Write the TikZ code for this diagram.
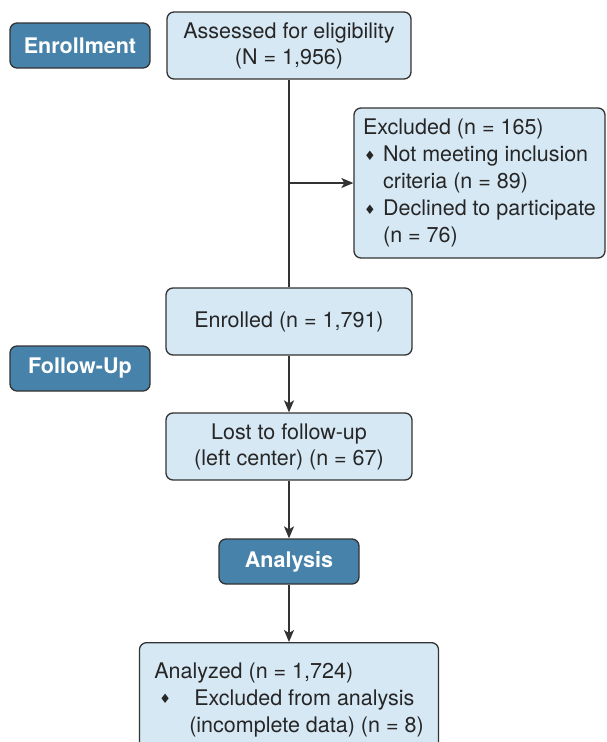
\documentclass[tikz,border=0pt]{standalone}
\usepackage{fontspec}
\setmainfont{TeX Gyre Heros}
\newfontfamily\symfont{DejaVu Sans}
\usetikzlibrary{arrows.meta,positioning}
\definecolor{ink}{HTML}{333333}
\definecolor{boxfill}{HTML}{D6E8F4}
\definecolor{phasefill}{HTML}{4682A9}
\newcommand\bulletmark{\raisebox{1.5pt}{\symfont\fontsize{13}{13}\selectfont ♦}}
\tikzset{
  flow/.style={
    -{Stealth[length=12pt,width=10pt,inset=3pt]},
    draw=ink,
    line width=1.5pt
  },
  stage/.style={
    draw=ink,
    fill=boxfill,
    line width=1.3pt,
    rounded corners=7pt,
    minimum width=246pt,
    minimum height=67pt,
    align=center,
    inner sep=4pt,
    font=\fontsize{21.5}{26}\selectfont,
    text=black!85
  },
  phase/.style={
    draw=ink,
    fill=phasefill,
    line width=1.3pt,
    rounded corners=7pt,
    minimum width=140pt,
    minimum height=45pt,
    inner sep=2pt,
    font=\fontsize{21.5}{26}\selectfont\bfseries,
    text=white
  }
}

\begin{document}
\begin{tikzpicture}[x=1pt,y=1pt]
  \useasboundingbox (0,0) rectangle (606,-742);

  % phase labels
  \node[phase] (phase-enroll) at (80,-45.5) {Enrollment};
  \node[phase] (phase-follow) at (80,-368.5) {Follow-Up};
  \node[phase] (phase-analysis) at (289,-561.5) {Analysis};

  % flow boxes
  \node[stage,minimum width=244pt] (flow-assessed) at (289,-45.5) {
    Assessed for eligibility\\
    (N = 1,956)
  };
  \node[stage,minimum width=251pt,minimum height=150pt,inner xsep=2pt,
    align=left,font=\fontsize{21.5}{27}\selectfont]
    (flow-excluded) at (479.5,-183) {%
    Excluded (n = 165)\\
    \makebox[20pt][l]{\hspace{1pt}\bulletmark}Not meeting inclusion\\
    \hspace*{20pt}criteria (n = 89)\\
    \makebox[20pt][l]{\hspace{1pt}\bulletmark}Declined to participate\\
    \hspace*{20pt}(n = 76)%
  };
  \node[stage] (flow-enrolled) at (289,-321.5) {Enrolled (n = 1,791)};
  \node[stage] (flow-lost) at (289,-446.5) {
    Lost to follow-up\\
    (left center) (n = 67)
  };
  \node[stage,anchor=north,minimum width=299pt,minimum height=114pt,
    align=left,font=\fontsize{21.5}{27}\selectfont]
    (flow-analyzed) at (289,-642) {%
    Analyzed (n = 1,724)\\
    \makebox[40pt][l]{\hspace{5pt}\bulletmark}Excluded from analysis\\
    \hspace*{35pt}(incomplete data) (n = 8)%
  };

  \draw[draw=ink,line width=1.5pt] (flow-assessed.south) -- (flow-enrolled.north);
  \draw[flow] (flow-assessed.south |- flow-excluded.west) -- (flow-excluded.west);
  \draw[flow] (flow-enrolled.south) -- (flow-lost.north);
  \draw[flow] (flow-lost.south) -- (phase-analysis.north);
  \draw[flow] (phase-analysis.south) -- (flow-analyzed.north);
\end{tikzpicture}
\end{document}
